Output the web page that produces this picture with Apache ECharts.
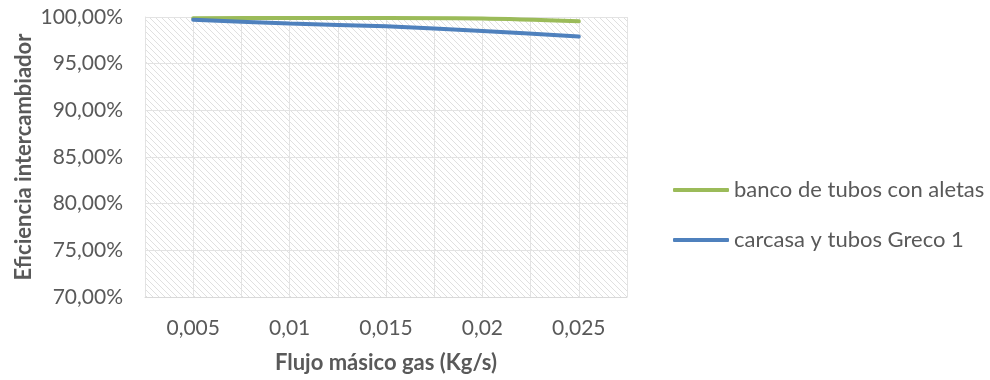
<!DOCTYPE html>
<html>
<head>
<meta charset="utf-8">
<title>Eficiencia intercambiador</title>
<script src="https://cdn.jsdelivr.net/npm/echarts@6/dist/echarts.min.js"></script>
<style>
  html, body { margin: 0; padding: 0; background: #fff; }
  #chart { width: 990px; height: 380px; }
</style>
</head>
<body>
<div id="chart"></div>
<script>
// datos
const flujo = [0.005, 0.01, 0.015, 0.02, 0.025]
const bancoAletas = [99.86, 99.9, 99.9, 99.85, 99.55]
const carcasaGreco = [99.7, 99.3, 99.0, 98.5, 97.9]
const yTicks = [70, 75, 80, 85, 90, 95, 100]

// trama diagonal del área de trazado
const makeHatch = () => {
  const c = document.createElement('canvas')
  c.width = 6
  c.height = 6
  const ctx = c.getContext('2d')
  ctx.fillStyle = '#ffffff'
  ctx.fillRect(0, 0, 6, 6)
  ctx.fillStyle = '#e0e0e0'
  for (let i = 0; i < 6; i++) {
    ctx.fillRect(i, i, 1, 1)
  }
  return c
}

const fmt = v => String(+v.toFixed(4)).replace('.', ',')

const chart = echarts.init(document.getElementById('chart'))
const textColor = '#595959'
const font = 'Lato, "Open Sans", sans-serif'

chart.setOption({
  animation: false,
  textStyle: { fontFamily: font },
  grid: {
    left: 145,
    right: 363,
    top: 17,
    bottom: 83,
    show: true,
    borderWidth: 0,
    backgroundColor: { image: makeHatch(), repeat: 'repeat' }
  },
  legend: {
    orient: 'vertical',
    left: 668,
    top: 174,
    itemWidth: 56,
    itemHeight: 4,
    itemGap: 28,
    icon: 'roundRect',
    textStyle: { color: textColor, fontSize: 22, fontFamily: font },
    data: ['banco de tubos con aletas', 'carcasa y tubos Greco 1']
  },
  xAxis: {
    type: 'value',
    min: 0.0025,
    max: 0.0275,
    interval: 0.0025,
    name: 'Flujo másico gas (Kg/s)',
    nameLocation: 'middle',
    nameGap: 55,
    nameTextStyle: { color: textColor, fontSize: 22, fontWeight: 'bold', fontFamily: font },
    axisLine: { show: true, lineStyle: { color: '#d9d9d9', width: 1 } },
    axisTick: { show: false },
    axisLabel: {
      color: textColor,
      fontSize: 21,
      margin: 21,
      formatter: v => {
        const k = Math.round(v / 0.0025)
        if (k % 2 === 1 || v <= 0.0026 || v >= 0.0274) return ''
        return fmt(v)
      }
    },
    splitLine: { show: true, lineStyle: { color: '#e3e3e3', width: 1 } }
  },
  yAxis: {
    type: 'value',
    min: yTicks[0],
    max: yTicks[yTicks.length - 1],
    interval: 5,
    name: 'Eficiencia intercambiador',
    nameLocation: 'middle',
    nameGap: 110,
    nameTextStyle: { color: textColor, fontSize: 22, fontWeight: 'bold', fontFamily: font },
    axisLine: { show: true, lineStyle: { color: '#e3e3e3' } },
    axisTick: { show: false },
    axisLabel: {
      color: textColor,
      fontSize: 21,
      margin: 22,
      formatter: v => v.toFixed(2).replace('.', ',') + '%'
    },
    splitLine: { show: true, lineStyle: { color: '#e3e3e3', width: 1 } }
  },
  series: [
    {
      name: 'banco de tubos con aletas',
      type: 'line',
      smooth: 0.3,
      showSymbol: false,
      data: flujo.map((x, i) => [x, bancoAletas[i]]),
      lineStyle: { color: '#9bbb59', width: 4, cap: 'round' },
      itemStyle: { color: '#9bbb59' }
    },
    {
      name: 'carcasa y tubos Greco 1',
      type: 'line',
      smooth: 0.3,
      showSymbol: false,
      data: flujo.map((x, i) => [x, carcasaGreco[i]]),
      lineStyle: { color: '#4f81bd', width: 4, cap: 'round' },
      itemStyle: { color: '#4f81bd' }
    }
  ]
})
</script>
</body>
</html>
